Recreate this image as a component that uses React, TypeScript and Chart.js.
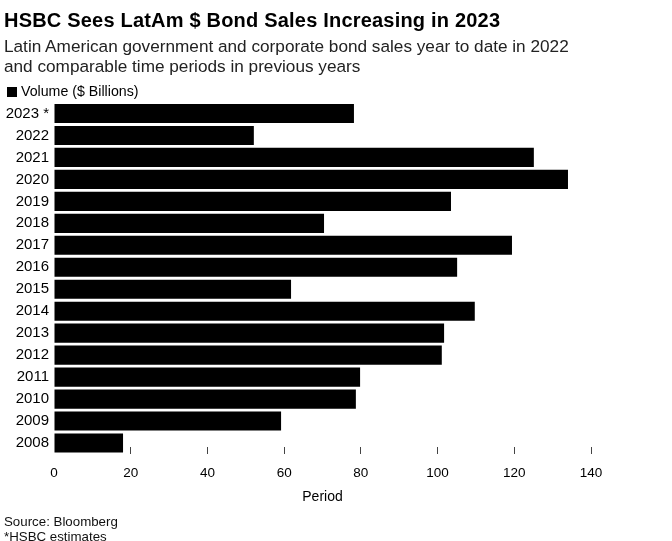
import React, { useEffect, useRef } from "react";
import { Chart, registerables } from "chart.js";

Chart.register(...registerables);

const categories = ["2023 *", "2022", "2021", "2020", "2019", "2018", "2017", "2016", "2015", "2014", "2013", "2012", "2011", "2010", "2009", "2008"];
const volume = [78.2, 52.1, 125.1, 134.0, 103.5, 70.4, 119.4, 105.1, 61.8, 109.7, 101.7, 101.1, 79.8, 78.7, 59.2, 18.0];
const xTickMin = 0;
const xTickMax = 140;
const xTickStep = 20;

const seriesLabel = "Volume ($ Billions)";
const titleText = "HSBC Sees LatAm $ Bond Sales Increasing in 2023";
const subtitleLines = [
  "Latin American government and corporate bond sales year to date in 2022",
  "and comparable time periods in previous years",
];
const axisTitle = "Period";
const footerLines = ["Source: Bloomberg", "*HSBC estimates"];

const FONT = '"Liberation Sans", Arial, Helvetica, sans-serif';

export default function App() {
  const ref = useRef<HTMLCanvasElement | null>(null);

  useEffect(() => {
    if (!ref.current) return;
    const chart = new Chart(ref.current, {
      type: "bar",
      data: {
        labels: categories,
        datasets: [
          {
            label: seriesLabel,
            data: volume,
            backgroundColor: "#000000",
            borderWidth: 0,
            barPercentage: 0.87,
            categoryPercentage: 1,
          },
        ],
      },
      options: {
        indexAxis: "y",
        animation: false,
        responsive: false,
        devicePixelRatio: 1,
        layout: { padding: { top: 102.5, left: 0, right: 81, bottom: 0 } },
        plugins: {
          legend: { display: false },
          tooltip: { enabled: false },
          title: { display: false },
        },
        scales: {
          x: {
            type: "linear",
            min: xTickMin,
            max: xTickMax,
            ticks: {
              stepSize: xTickStep,
              padding: 18,
              color: "#000",
              font: { family: FONT, size: 13.5 },
            },
            grid: {
              display: true,
              drawOnChartArea: false,
              drawTicks: true,
              tickLength: -7,
              color: (ctx: any) => (ctx.tick && ctx.tick.value === 0 ? "rgba(0,0,0,0)" : "#444"),
              lineWidth: 1,
            },
            border: { display: false },
            title: {
              display: true,
              text: axisTitle,
              color: "#000",
              font: { family: FONT, size: 14 },
              padding: { top: 0, bottom: 35.6 },
            },
            afterFit: (scale: any) => {
              scale.height = 87;
            },
          },
          y: {
            type: "category",
            ticks: {
              padding: 5,
              color: "#000",
              font: { family: FONT, size: 15 },
            },
            grid: { display: false, drawTicks: false },
            border: { display: false },
            afterFit: (scale: any) => {
              scale.width = 54;
            },
          },
        },
      },
    });
    return () => chart.destroy();
  }, []);

  return (
    <div
      style={{
        position: "fixed",
        left: 0,
        top: 0,
        width: 672,
        height: 541,
        background: "#fff",
        fontFamily: FONT,
        color: "#000",
      }}
    >
      <canvas ref={ref} width={672} height={541} style={{ position: "absolute", left: 0, top: 0, width: 672, height: 541 }} />
      <div style={{ position: "absolute", left: 4, top: 9.1, fontSize: 20, lineHeight: "22px", fontWeight: 700, letterSpacing: "0.2px", whiteSpace: "nowrap" }}>
        {titleText}
      </div>
      <div style={{ position: "absolute", left: 4, top: 36, fontSize: 17.2, lineHeight: "20px", color: "#222", whiteSpace: "nowrap" }}>
        {subtitleLines.map((l, i) => (
          <div key={i}>{l}</div>
        ))}
      </div>
      <div style={{ position: "absolute", left: 7, top: 87, width: 10, height: 10, background: "#000" }} />
      <div style={{ position: "absolute", left: 21, top: 81, fontSize: 14.2, lineHeight: "20px", whiteSpace: "nowrap" }}>
        {seriesLabel}
      </div>
      <div style={{ position: "absolute", left: 4, top: 514, fontSize: 13.3, lineHeight: "15px", color: "#111", whiteSpace: "nowrap" }}>
        {footerLines.map((l, i) => (
          <div key={i}>{l}</div>
        ))}
      </div>
    </div>
  );
}
